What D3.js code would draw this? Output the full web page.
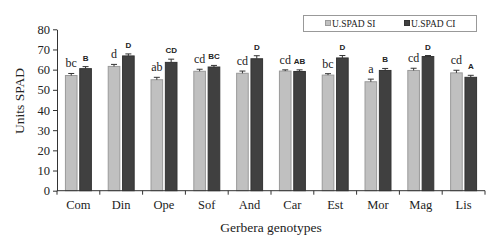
<!DOCTYPE html>
<html>
<head>
<meta charset="utf-8">
<script src="https://cdn.jsdelivr.net/npm/d3@7"></script>
<style>
  body { margin: 0; background: #fff; }
  svg { display: block; }
</style>
</head>
<body>
<div id="chart"></div>
<script>
// data
var genotypes = ["Com", "Din", "Ope", "Sof", "And", "Car", "Est", "Mor", "Mag", "Lis"]
var spadSI = [57.1, 61.6, 55.0, 59.2, 58.2, 59.3, 57.3, 54.0, 59.6, 58.4]
var spadCI = [60.5, 66.8, 63.6, 61.3, 65.4, 59.1, 65.8, 59.6, 66.5, 56.2]
var errSI = [1.0, 1.0, 1.2, 1.0, 1.1, 0.6, 0.7, 1.3, 1.1, 1.3]
var errCI = [1.0, 1.0, 1.6, 0.8, 1.5, 0.8, 1.2, 1.0, 0.5, 1.0]
var lettersSI = ["bc", "d", "ab", "cd", "cd", "cd", "bc", "a", "cd", "cd"]
var lettersCI = ["B", "D", "CD", "BC", "D", "AB", "D", "B", "D", "A"]
var seriesNames = ["U.SPAD SI", "U.SPAD CI"]
var yTicks = [0, 10, 20, 30, 40, 50, 60, 70, 80]

const margin = { top: 29.3, left: 57, bottom: 50.3, right: 15 }
const config = {
    svgWidth: 500,
    svgHeight: 241,
    lightFill: "#c0c0c0",
    lightStroke: "#9a9a9a",
    darkFill: "#404040",
    serif: "'Liberation Serif', 'DejaVu Serif', serif",
    sans: "'Liberation Sans', Arial, sans-serif"
}
const w = config.svgWidth - margin.left - margin.right
const h = config.svgHeight - margin.top - margin.bottom

var svg = d3.select("#chart").append("svg")
    .attr("width", config.svgWidth)
    .attr("height", config.svgHeight)

var g = svg.append("g").attr("transform", "translate(" + margin.left + "," + margin.top + ")")

var xScale = d3.scaleBand().domain(genotypes).range([0, w]).paddingInner(0.37).paddingOuter(0.185)
var xSub = d3.scaleBand().domain([0, 1]).range([0, xScale.bandwidth()]).paddingInner(0.12)
var yScale = d3.scaleLinear().domain([0, 80]).range([h, 0])

// bars
var series = [
    { vals: spadSI, errs: errSI, letters: lettersSI, fill: config.lightFill, stroke: config.lightStroke, font: config.serif, size: 12, weight: "normal" },
    { vals: spadCI, errs: errCI, letters: lettersCI, fill: config.darkFill, stroke: "#333", font: config.sans, size: 8, weight: "bold" }
]

series.forEach((s, si) => {
    var grp = g.append("g")
    grp.selectAll("rect")
        .data(s.vals)
        .enter()
        .append("rect")
        .attr("x", (d, i) => xScale(genotypes[i]) + xSub(si) + 0.5)
        .attr("y", d => yScale(d))
        .attr("width", xSub.bandwidth() - 1)
        .attr("height", d => h - yScale(d))
        .attr("fill", s.fill)
        .attr("stroke", s.stroke)
        .attr("stroke-width", 1)

    // error bars (upper only)
    grp.selectAll("path.err")
        .data(s.vals)
        .enter()
        .append("path")
        .attr("class", "err")
        .attr("d", (d, i) => {
            var cx = xScale(genotypes[i]) + xSub(si) + xSub.bandwidth() / 2
            var y0 = yScale(d), y1 = yScale(d + s.errs[i])
            return "M" + cx + "," + y0 + "V" + y1 + "M" + (cx - 3) + "," + y1 + "H" + (cx + 3)
        })
        .attr("stroke", "#333")
        .attr("stroke-width", 1)
        .attr("fill", "none")

    // significance letters
    grp.selectAll("text")
        .data(s.vals)
        .enter()
        .append("text")
        .attr("x", (d, i) => xScale(genotypes[i]) + xSub(si) + xSub.bandwidth() / 2)
        .attr("y", (d, i) => yScale(d + s.errs[i]) - 6)
        .attr("text-anchor", "middle")
        .attr("font-family", s.font)
        .attr("font-size", s.size)
        .attr("font-weight", s.weight)
        .attr("fill", "#222")
        .text((d, i) => s.letters[i])
})

// y axis
var yAxis = d3.axisLeft(yScale).tickValues(yTicks).tickSize(4).tickSizeOuter(0)
var ya = g.append("g").call(yAxis)
ya.selectAll("text").attr("font-family", config.serif).attr("font-size", 12.5).attr("fill", "#222").attr("x", -7)
ya.selectAll("line, path").attr("stroke", "#333")

// x axis: ticks on band boundaries
var xa = g.append("g").attr("transform", "translate(0," + h + ")")
xa.append("path").attr("d", "M0,0H" + w).attr("stroke", "#333")
var bounds = genotypes.map(c => xScale(c) - xScale.step() * xScale.paddingInner() / 2).concat([w])
xa.selectAll("line")
    .data(bounds)
    .enter()
    .append("line")
    .attr("x1", d => d).attr("x2", d => d)
    .attr("y1", 0).attr("y2", 4)
    .attr("stroke", "#333")
xa.selectAll("text")
    .data(genotypes)
    .enter()
    .append("text")
    .attr("x", d => xScale(d) + xScale.bandwidth() / 2)
    .attr("y", 18)
    .attr("text-anchor", "middle")
    .attr("font-family", config.serif)
    .attr("font-size", 12.5)
    .attr("fill", "#222")
    .text(d => d)

// axis titles
svg.append("text")
    .attr("transform", "translate(24,101) rotate(-90)")
    .attr("text-anchor", "middle")
    .attr("font-family", config.serif)
    .attr("font-size", 13.5)
    .attr("fill", "#222")
    .text("Units SPAD")

svg.append("text")
    .attr("x", 271)
    .attr("y", 232)
    .attr("text-anchor", "middle")
    .attr("font-family", config.serif)
    .attr("font-size", 13.5)
    .attr("fill", "#222")
    .text("Gerbera genotypes")

// legend
var legend = svg.append("g")
legend.append("rect")
    .attr("x", 303.5).attr("y", 15.5)
    .attr("width", 173).attr("height", 16)
    .attr("fill", "#fff")
    .attr("stroke", "#999")
var legendX = [325, 404]
seriesNames.forEach((name, i) => {
    legend.append("rect")
        .attr("x", legendX[i] + 0.5).attr("y", 20.5)
        .attr("width", 5).attr("height", 5)
        .attr("fill", series[i].fill)
        .attr("stroke", series[i].stroke)
    legend.append("text")
        .attr("x", legendX[i] + 7)
        .attr("y", 27)
        .attr("font-family", config.serif)
        .attr("font-size", 9.5)
        .attr("fill", "#222")
        .text(name)
})
</script>
</body>
</html>
